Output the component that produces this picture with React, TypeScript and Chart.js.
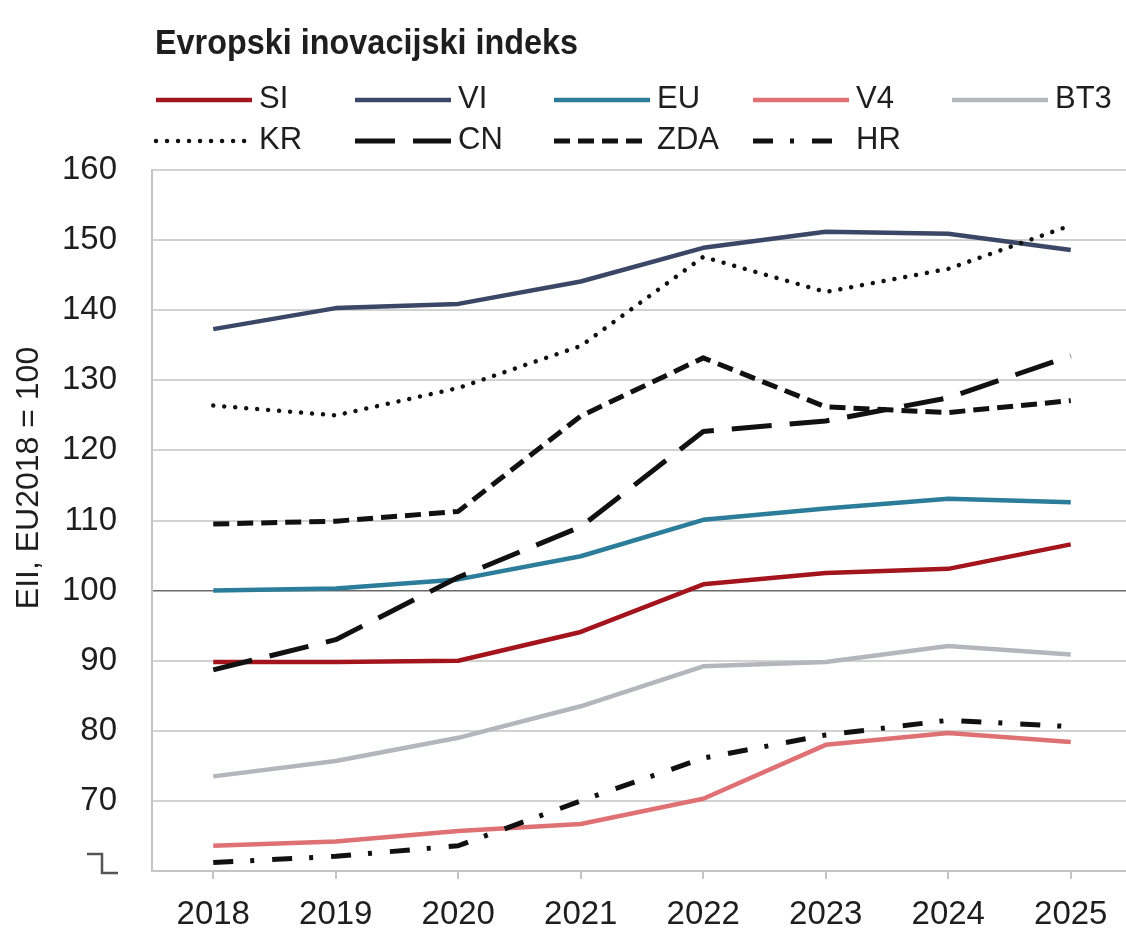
import { useEffect, useRef } from 'react';
import { Chart, registerables } from 'chart.js';

Chart.register(...registerables);

// ---- Data ----
const years = ['2018', '2019', '2020', '2021', '2022', '2023', '2024', '2025'];
const seriesNames = ['SI', 'VI', 'EU', 'V4', 'BT3', 'KR', 'CN', 'ZDA', 'HR'];
const siValues = [89.8, 89.8, 90.0, 94.1, 100.9, 102.5, 103.1, 106.6];
const viValues = [137.3, 140.3, 140.9, 144.1, 148.9, 151.2, 150.9, 148.6];
const euValues = [100.0, 100.3, 101.6, 104.9, 110.1, 111.7, 113.1, 112.6];
const v4Values = [63.6, 64.2, 65.7, 66.7, 70.3, 78.0, 79.7, 78.4];
const bt3Values = [73.5, 75.7, 79.0, 83.5, 89.2, 89.8, 92.1, 90.9];
const krValues = [126.4, 125.0, 128.9, 134.9, 147.6, 142.6, 145.9, 152.1];
const cnValues = [88.7, 93.0, 101.9, 109.1, 122.7, 124.2, 127.5, 133.5];
const zdaValues = [109.5, 109.9, 111.3, 124.9, 133.2, 126.2, 125.4, 127.1];
const hrValues = [61.2, 62.1, 63.6, 70.0, 76.1, 79.4, 81.5, 80.6];
const yMin = 60;
const yMax = 160;
const yStep = 10;
const hiddenTick = 60;
const refLine = 100;
const titleText = 'Evropski inovacijski indeks';
const yTitleText = 'EII, EU2018 = 100';

const seriesValues = [siValues, viValues, euValues, v4Values, bt3Values, krValues, cnValues, zdaValues, hrValues];
const seriesColors = ['#a3141c', '#3b4766', '#2b7d9a', '#df7174', '#b3b7bc', '#111111', '#111111', '#111111', '#111111'];
const seriesWidths = [4.5, 4.5, 4.5, 4.5, 4.5, 4.5, 5, 5, 5];
const seriesDashes: number[][] = [[], [], [], [], [], [0.01, 11], [40, 18], [16, 8], [20, 17, 4, 18]];
const seriesCaps = ['butt', 'butt', 'butt', 'butt', 'butt', 'round', 'butt', 'butt', 'butt'];

const FONT = '"Liberation Sans", Arial, sans-serif';
const TEXT = '#1e1e1e';

const decorPlugin = {
  id: 'decor',
  afterDraw(chart: any) {
    const ctx = chart.ctx as CanvasRenderingContext2D;
    const area = chart.chartArea;
    ctx.save();
    // title (condensed bold: horizontally compressed to the reference width)
    ctx.save();
    ctx.fillStyle = TEXT;
    ctx.font = 'bold 35px "Liberation Sans", Arial, sans-serif';
    ctx.textAlign = 'left';
    ctx.textBaseline = 'alphabetic';
    const w = ctx.measureText(titleText).width;
    const sx = 423 / w;
    ctx.translate(155, 54);
    ctx.scale(sx, 1);
    ctx.fillText(titleText, 0, 0);
    ctx.restore();

    // legend
    const dsets = chart.data.datasets;
    dsets.forEach((ds: any, i: number) => {
      const col = i % 5;
      const row = Math.floor(i / 5);
      const x0 = 156 + col * 199;
      const y = row === 0 ? 100 : 141;
      ctx.save();
      ctx.strokeStyle = ds.borderColor;
      ctx.lineWidth = ds.borderWidth;
      ctx.lineCap = ds.borderCapStyle || 'butt';
      ctx.setLineDash(ds.borderDash || []);
      ctx.beginPath();
      ctx.moveTo(x0, y);
      ctx.lineTo(x0 + 96, y);
      ctx.stroke();
      ctx.restore();
      ctx.fillStyle = TEXT;
      ctx.font = '31px ' + FONT;
      ctx.textAlign = 'left';
      ctx.textBaseline = 'middle';
      ctx.fillText(ds.label, x0 + 103, y - 1);
    });

    // y-axis title
    ctx.save();
    ctx.translate(29, 478);
    ctx.rotate(-Math.PI / 2);
    ctx.fillStyle = TEXT;
    ctx.font = '32px ' + FONT;
    ctx.textAlign = 'center';
    ctx.textBaseline = 'middle';
    ctx.fillText(yTitleText, 0, 0);
    ctx.restore();

    // axis break symbol
    const bx = area.left - 65;
    const by = area.bottom;
    ctx.strokeStyle = '#555555';
    ctx.lineWidth = 2.5;
    ctx.setLineDash([]);
    ctx.beginPath();
    ctx.moveTo(bx, by - 17);
    ctx.lineTo(bx + 15, by - 17);
    ctx.lineTo(bx + 15, by + 2);
    ctx.lineTo(bx + 31, by + 2);
    ctx.stroke();
    ctx.restore();
  },
};

export default function App() {
  const ref = useRef<HTMLCanvasElement | null>(null);

  useEffect(() => {
    if (!ref.current) return;
    const chart = new Chart(ref.current, {
      type: 'line',
      data: {
        labels: years,
        datasets: seriesNames.map((name, i) => ({
          label: name,
          data: seriesValues[i],
          borderColor: seriesColors[i],
          backgroundColor: seriesColors[i],
          borderWidth: seriesWidths[i],
          borderDash: seriesDashes[i],
          borderCapStyle: seriesCaps[i] as any,
          borderJoinStyle: 'round' as any,
          pointRadius: 0,
          pointHoverRadius: 0,
          tension: 0,
          fill: false,
          order: seriesNames.length - i,
        })),
      },
      options: {
        responsive: false,
        animation: false,
        events: [],
        layout: { padding: { top: 170, right: 8, bottom: 0, left: 0 } },
        plugins: {
          legend: { display: false },
          title: { display: false },
          tooltip: { enabled: false },
        },
        scales: {
          x: {
            type: 'category',
            offset: true,
            grid: {
              display: true,
              drawOnChartArea: false,
              drawTicks: true,
              tickLength: 8,
              color: '#c4c4c4',
              lineWidth: 2,
              offset: false,
            },
            border: { display: true, color: '#c4c4c4', width: 2 },
            ticks: {
              color: TEXT,
              font: { size: 33, family: FONT },
              padding: 16,
              maxRotation: 0,
              autoSkip: false,
            },
            afterFit: (s: any) => {
              s.height = 62;
            },
          },
          y: {
            min: yMin,
            max: yMax,
            grid: {
              drawTicks: false,
              color: (c: any) => (c.tick && c.tick.value === refLine ? '#6a6a6a' : '#d2d2d2'),
              lineWidth: (c: any) => (c.tick && c.tick.value === refLine ? 1.6 : 2),
            },
            border: { display: true, color: '#c4c4c4', width: 2 },
            ticks: {
              stepSize: yStep,
              color: TEXT,
              font: { size: 33, family: FONT },
              padding: 35,
              callback: (v: any) => (v === hiddenTick ? '' : String(v)),
            },
            afterFit: (s: any) => {
              s.width = 152;
            },
          },
        },
      },
      plugins: [decorPlugin],
    });
    return () => chart.destroy();
  }, []);

  return (
    <div
      style={{
        position: 'fixed',
        left: 0,
        top: 0,
        width: 1126,
        height: 933,
        overflow: 'hidden',
        background: '#ffffff',
      }}
    >
      <canvas ref={ref} width={1140} height={933} style={{ width: 1140, height: 933, display: 'block' }} />
    </div>
  );
}
